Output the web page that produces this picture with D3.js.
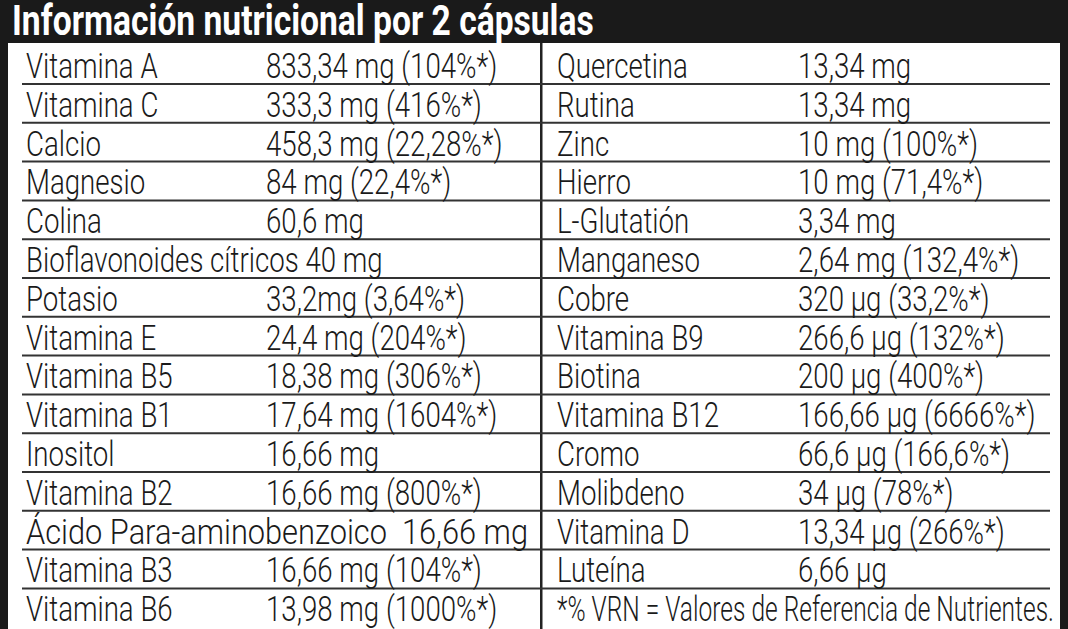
<!DOCTYPE html>
<html><head><meta charset="utf-8">
<script src="https://cdn.jsdelivr.net/npm/d3@7"></script>
<style>body{margin:0;background:#fff}svg{display:block}</style>
</head><body>
<svg id="c" width="1068" height="629"></svg>
<script>
// table contents
var title = "Información nutricional por 2 cápsulas";
var leftNames = ["Vitamina A","Vitamina C","Calcio","Magnesio","Colina","Bioflavonoides cítricos 40 mg","Potasio","Vitamina E","Vitamina B5","Vitamina B1","Inositol","Vitamina B2","Ácido Para-aminobenzoico  16,66 mg","Vitamina B3","Vitamina B6"];
var leftValues = ["833,34 mg (104%*)","333,3 mg (416%*)","458,3 mg (22,28%*)","84 mg (22,4%*)","60,6 mg","","33,2mg (3,64%*)","24,4 mg (204%*)","18,38 mg (306%*)","17,64 mg (1604%*)","16,66 mg","16,66 mg (800%*)","","16,66 mg (104%*)","13,98 mg (1000%*)"];
var rightNames = ["Quercetina","Rutina","Zinc","Hierro","L-Glutatión","Manganeso","Cobre","Vitamina B9","Biotina","Vitamina B12","Cromo","Molibdeno","Vitamina D","Luteína","*% VRN = Valores de Referencia de Nutrientes."];
var rightValues = ["13,34 mg","13,34 mg","10 mg (100%*)","10 mg (71,4%*)","3,34 mg","2,64 mg (132,4%*)","320 µg (33,2%*)","266,6 µg (132%*)","200 µg (400%*)","166,66 µg (6666%*)","66,6 µg (166,6%*)","34 µg (78%*)","13,34 µg (266%*)","6,66 µg",""];

var svg = d3.select("#c");
var W = 1068, H = 629, sx = 0.79;
var rows = d3.range(leftNames.length);
var y = d3.scaleLinear().domain([0, 1]).range([45.2, 84]); // row i bottom line = y(i+1)

svg.append("rect").attr("x",0).attr("y",0).attr("width",W).attr("height",43).attr("fill","#1a1a1a");
svg.append("rect").attr("x",0).attr("y",0).attr("width",8).attr("height",H).attr("fill","#1a1a1a");
svg.append("rect").attr("x",1060).attr("y",0).attr("width",8).attr("height",H).attr("fill","#1a1a1a");
svg.append("rect").attr("x",540).attr("y",43).attr("width",2.5).attr("height",H).attr("fill","#222");

svg.append("text").attr("transform","translate(12,35) scale(0.8,1)")
  .attr("font-family","Roboto").attr("font-weight",700).attr("font-size",42)
  .attr("fill","#fff").text(title);

// row rules
svg.selectAll("line.rule").data(rows.slice(0, rows.length-1)).enter().append("line")
  .attr("x1",22).attr("x2",1050)
  .attr("y1",function(d){return y(d+1);}).attr("y2",function(d){return y(d+1);})
  .attr("stroke","#333").attr("stroke-width",2);

function col(names, values, xName, xVal){
  var g = svg.append("g");
  function put(arr, x, cls){
    g.selectAll("text."+cls).data(arr).enter().append("text")
      .attr("transform",function(d,i){return "translate("+x+","+(y(i+1)-6)+") scale("+sx+",1)";})
      .attr("font-family","Roboto").attr("font-weight",300).attr("font-size",35)
      .attr("fill","#1a1a1a").style("white-space","pre")
      .attr("xml:space","preserve").text(function(d){return d;})
      .each(function(d){
        // long one-off lines are squeezed in the original
        if (d.length > 30) d3.select(this).attr("textLength", (d.charAt(0)==="*" ? 497 : 502)/sx).attr("lengthAdjust","spacingAndGlyphs");
      });
  }
  put(names, xName, "n");
  put(values, xVal, "v");
}
col(leftNames, leftValues, 26, 266);
col(rightNames, rightValues, 557, 798);
</script>
</body></html>
